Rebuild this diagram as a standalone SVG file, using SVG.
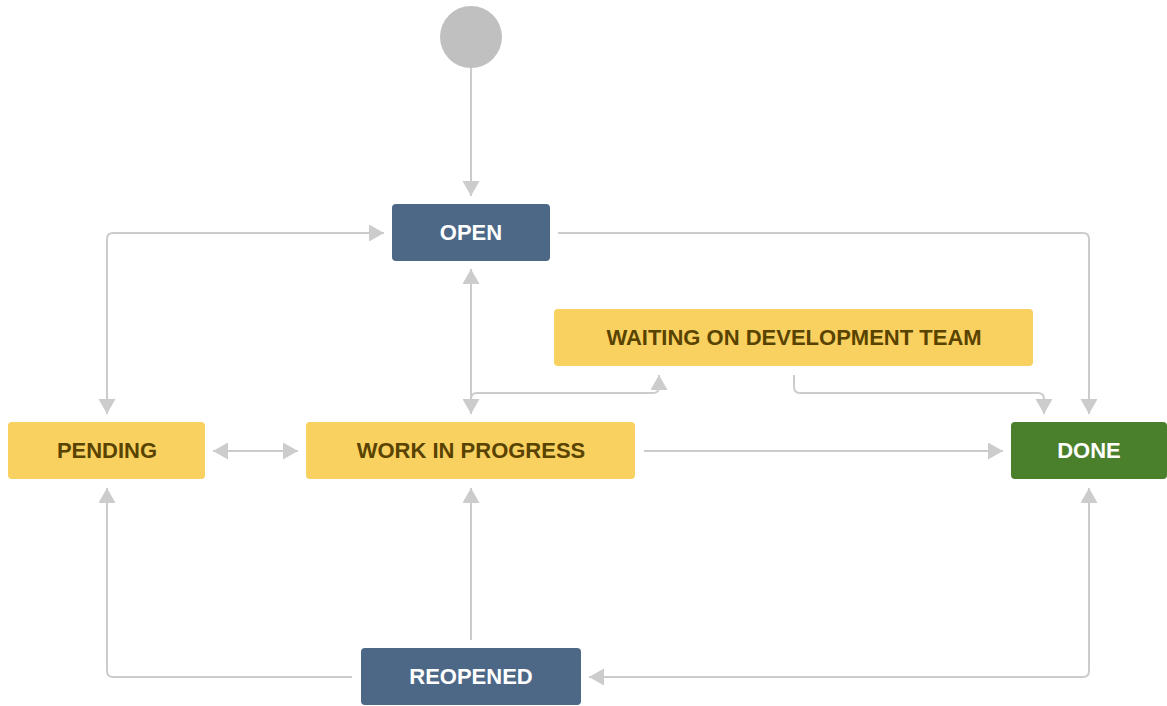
<svg xmlns="http://www.w3.org/2000/svg" width="1167" height="706" viewBox="0 0 1167 706">
<style>
.edge{fill:none;stroke:#cccccc;stroke-width:2}
.lbl{font-family:"Liberation Sans",Arial,sans-serif;font-weight:bold;font-size:22px;text-anchor:middle}
.blue{fill:#4d6886}
.yel{fill:#f9d160}
.grn{fill:#4a7f2c}
.lt{fill:#ffffff}
.dk{fill:#594300}
</style>
<defs>
<marker id="ah" markerUnits="userSpaceOnUse" markerWidth="16" markerHeight="18" refX="15" refY="8.5" orient="auto-start-reverse" viewBox="0 0 16 18">
<path d="M0,0 L15,8.5 L0,17 z" fill="#cccccc"/>
</marker>
</defs>
<rect width="1167" height="706" fill="#ffffff"/>
<g id="connectors">
<path class="edge" d="M471,68 V196" marker-end="url(#ah)"/>
<path class="edge" d="M471,269 V414" marker-start="url(#ah)" marker-end="url(#ah)"/>
<path class="edge" d="M471,399 Q471,393 477,393 H653 Q659,393 659,387 V375" marker-end="url(#ah)"/>
<path class="edge" d="M558,233 H1083 Q1089,233 1089,239 V414" marker-end="url(#ah)"/>
<path class="edge" d="M107,414 V239 Q107,233 113,233 H384" marker-start="url(#ah)" marker-end="url(#ah)"/>
<path class="edge" d="M213,451 H298" marker-start="url(#ah)" marker-end="url(#ah)"/>
<path class="edge" d="M644,451 H1003" marker-end="url(#ah)"/>
<path class="edge" d="M794,375 V387 Q794,393 800,393 H1038 Q1044,393 1044,399 V414" marker-end="url(#ah)"/>
<path class="edge" d="M471,640 V488" marker-end="url(#ah)"/>
<path class="edge" d="M352,677 H113 Q107,677 107,671 V488" marker-end="url(#ah)"/>
<path class="edge" d="M1089,488 V671 Q1089,677 1083,677 H589" marker-start="url(#ah)" marker-end="url(#ah)"/>
</g>
<g id="start"><circle cx="471" cy="37" r="31" fill="#c0c0c0"/></g>
<g id="open"><rect class="blue" x="392" y="204" width="158" height="57" rx="4"/><text class="lbl lt" x="471" y="240">OPEN</text></g>
<g id="waiting"><rect class="yel" x="554" y="309" width="479" height="57" rx="4"/><text class="lbl dk" x="794" y="345">WAITING ON DEVELOPMENT TEAM</text></g>
<g id="pending"><rect class="yel" x="8" y="422" width="197" height="57" rx="4"/><text class="lbl dk" x="107" y="458">PENDING</text></g>
<g id="wip"><rect class="yel" x="306" y="422" width="329" height="57" rx="4"/><text class="lbl dk" x="471" y="458">WORK IN PROGRESS</text></g>
<g id="done"><rect class="grn" x="1011" y="422" width="156" height="57" rx="4"/><text class="lbl lt" x="1089" y="458">DONE</text></g>
<g id="reopened"><rect class="blue" x="361" y="648" width="220" height="57" rx="4"/><text class="lbl lt" x="471" y="684">REOPENED</text></g>
</svg>
